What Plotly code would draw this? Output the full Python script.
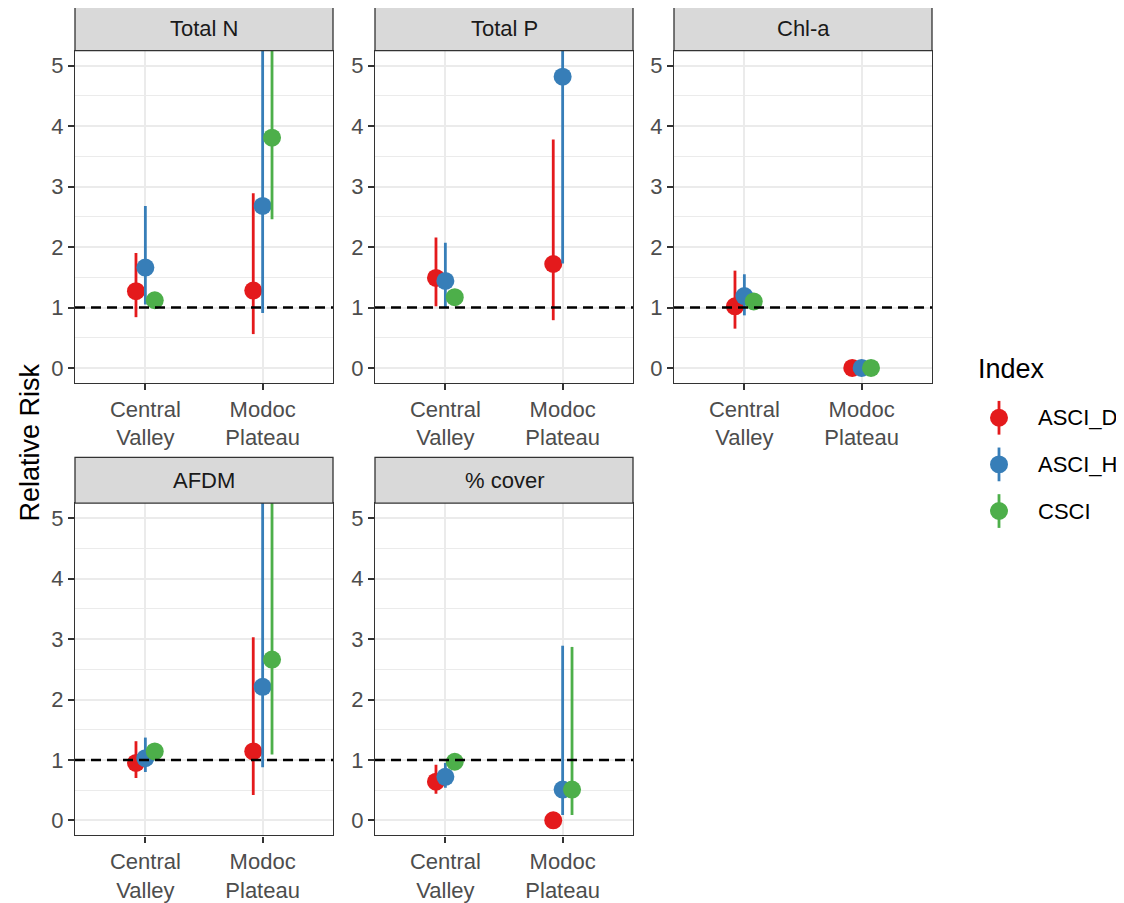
import plotly.graph_objects as go

# ---------------- data ----------------
panels = ["Total N", "Total P", "Chl-a", "AFDM", "% cover"]
regions = ["Central Valley", "Modoc Plateau"]
region_labels = ["Central<br>Valley", "Modoc<br>Plateau"]
indices = ["ASCI_D", "ASCI_H", "CSCI"]
y_ticks = [0, 1, 2, 3, 4, 5]

# estimates per panel: [Central Valley, Modoc Plateau]
asci_d_est = [[1.27, 1.28], [1.49, 1.72], [1.02, 0.0], [0.95, 1.14], [0.64, 0.0]]
asci_d_lo = [[0.84, 0.56], [1.02, 0.79], [0.65, None], [0.70, 0.42], [0.44, None]]
asci_d_hi = [[1.90, 2.89], [2.16, 3.78], [1.61, None], [1.31, 3.03], [0.92, None]]

asci_h_est = [[1.66, 2.68], [1.44, 4.82], [1.19, 0.0], [1.03, 2.21], [0.72, 0.51]]
asci_h_lo = [[1.05, 0.91], [0.99, 1.73], [0.87, None], [0.80, 0.88], [0.54, 0.09]]
asci_h_hi = [[2.68, 7.0], [2.07, 9.0], [1.55, None], [1.37, 6.5], [0.95, 2.89]]

csci_est = [[1.12, 3.81], [1.17, None], [1.10, 0.0], [1.14, 2.66], [0.97, 0.51]]
csci_lo = [[1.02, 2.46], [1.05, None], [1.00, None], [1.05, 1.09], [0.90, 0.09]]
csci_hi = [[1.22, 8.0], [1.28, None], [1.20, None], [1.22, 6.8], [1.05, 2.87]]

series = {
    "ASCI_D": (asci_d_est, asci_d_lo, asci_d_hi),
    "ASCI_H": (asci_h_est, asci_h_lo, asci_h_hi),
    "CSCI": (csci_est, csci_lo, csci_hi),
}
colors = {"ASCI_D": "#E41A1C", "ASCI_H": "#377EB8", "CSCI": "#4DAF4A"}
dodge = {"ASCI_D": -0.08, "ASCI_H": 0.0, "CSCI": 0.08}

# ---------------- layout geometry (page pixels) ----------------
OFF = 8                      # default body margin of the page
W, H = 1124 - 2 * OFF, 903 - OFF
cols = [(75, 333), (375, 633), (674, 932)]
rows = [(51, 386), (507, 842)]
strip_tops = [6, 461]
panel_pos = [(0, 0), (0, 1), (0, 2), (1, 0), (1, 1)]


def fx(px):
    return (px - OFF) / W


def fy(py):
    return 1 - (py - OFF) / H


FONT = "Liberation Sans, Arial, sans-serif"
TICK = 22
fig = go.Figure()
layout = dict(
    width=W, height=H,
    margin=dict(l=0, r=0, t=0, b=0),
    paper_bgcolor="white", plot_bgcolor="white",
    font=dict(family=FONT, size=TICK, color="#4D4D4D"),
    showlegend=False,
    shapes=[], annotations=[],
)

for p, name in enumerate(panels):
    r, c = panel_pos[p]
    x0, x1 = cols[c]
    yt, yb = rows[r]
    n = p + 1
    xa = "xaxis" if n == 1 else f"xaxis{n}"
    ya = "yaxis" if n == 1 else f"yaxis{n}"
    xr = "x" if n == 1 else f"x{n}"
    yr = "y" if n == 1 else f"y{n}"
    layout[xa] = dict(
        domain=[fx(x0), fx(x1)], anchor=yr, range=[0.4, 2.6],
        tickvals=[1, 2], ticktext=region_labels,
        showgrid=True, gridcolor="#EBEBEB", gridwidth=1.5, zeroline=False,
        ticks="outside", ticklen=6, tickwidth=1.5, tickcolor="#333333",
        showline=True, mirror=True, linecolor="#333333", linewidth=1.3,
        tickfont=dict(size=TICK, color="#4D4D4D", family=FONT),
        fixedrange=True,
    )
    layout[ya] = dict(
        domain=[fy(yb), fy(yt)], anchor=xr, range=[-0.25, 5.25],
        tickvals=y_ticks,
        showgrid=True, gridcolor="#EBEBEB", gridwidth=1.5, zeroline=False,
        minor=dict(dtick=0.5, tick0=0, showgrid=True, gridcolor="#EBEBEB",
                   gridwidth=0.8, ticks=""),
        ticks="outside", ticklen=6, tickwidth=1.5, tickcolor="#333333",
        showline=True, mirror=True, linecolor="#333333", linewidth=1.3,
        tickfont=dict(size=TICK, color="#4D4D4D", family=FONT),
        fixedrange=True,
    )
    # strip
    st = strip_tops[r]
    layout["shapes"].append(dict(
        type="rect", xref="paper", yref="paper",
        x0=fx(x0), x1=fx(x1), y0=fy(yt), y1=fy(st),
        fillcolor="#D9D9D9", line=dict(color="#333333", width=1.3), layer="above",
    ))
    layout["annotations"].append(dict(
        text=name, xref="paper", yref="paper",
        x=fx((x0 + x1) / 2), y=fy((st + yt) / 2),
        showarrow=False, xanchor="center", yanchor="middle",
        font=dict(size=TICK, color="#1A1A1A", family=FONT),
    ))
    # reference line at 1
    layout["shapes"].append(dict(
        type="line", xref=f"{xr} domain", yref=yr, x0=0, x1=1, y0=1, y1=1,
        line=dict(color="black", width=2.6, dash="10px,6px"), layer="above",
    ))
    # data traces
    for idx in indices:
        est, lo, hi = series[idx]
        xs, ys, up, dn = [], [], [], []
        for k in range(len(regions)):
            e = est[p][k]
            if e is None:
                continue
            xs.append(k + 1 + dodge[idx])
            ys.append(e)
            up.append((hi[p][k] - e) if hi[p][k] is not None else 0)
            dn.append((e - lo[p][k]) if lo[p][k] is not None else 0)
        fig.add_trace(go.Scatter(
            x=xs, y=ys, mode="markers", name=idx, legendgroup=idx,
            showlegend=False, xaxis=xr, yaxis=yr,
            marker=dict(size=18, color=colors[idx], line=dict(width=0)),
            error_y=dict(type="data", symmetric=False, array=up, arrayminus=dn,
                         width=0, thickness=2.8, color=colors[idx]),
        ))

# y axis title
layout["annotations"].append(dict(
    text="Relative Risk", xref="paper", yref="paper",
    x=fx(30), y=fy(446), textangle=-90, showarrow=False,
    xanchor="center", yanchor="middle",
    font=dict(size=27, color="black", family=FONT),
))

# legend (drawn as keys: point with vertical line, like ggplot pointrange keys)
layout["annotations"].append(dict(
    text="Index", xref="paper", yref="paper", x=fx(976), y=fy(372),
    showarrow=False, xanchor="left", yanchor="middle",
    font=dict(size=27, color="black", family=FONT),
))
key_x, key_y0, key_dy = 999, 421, 47
for i, idx in enumerate(indices):
    ky = key_y0 + i * key_dy
    layout["shapes"].append(dict(
        type="line", xref="paper", yref="paper",
        x0=fx(key_x), x1=fx(key_x), y0=fy(ky - 17), y1=fy(ky + 17),
        line=dict(color=colors[idx], width=2.8),
    ))
    layout["shapes"].append(dict(
        type="circle", xref="paper", yref="paper",
        x0=fx(key_x - 9), x1=fx(key_x + 9), y0=fy(ky + 9), y1=fy(ky - 9),
        fillcolor=colors[idx], line=dict(width=0),
    ))
    layout["annotations"].append(dict(
        text=idx, xref="paper", yref="paper", x=fx(1036), y=fy(ky),
        showarrow=False, xanchor="left", yanchor="middle",
        font=dict(size=TICK, color="black", family=FONT),
    ))

fig.update_layout(**layout)
fig.write_html("out.html")
